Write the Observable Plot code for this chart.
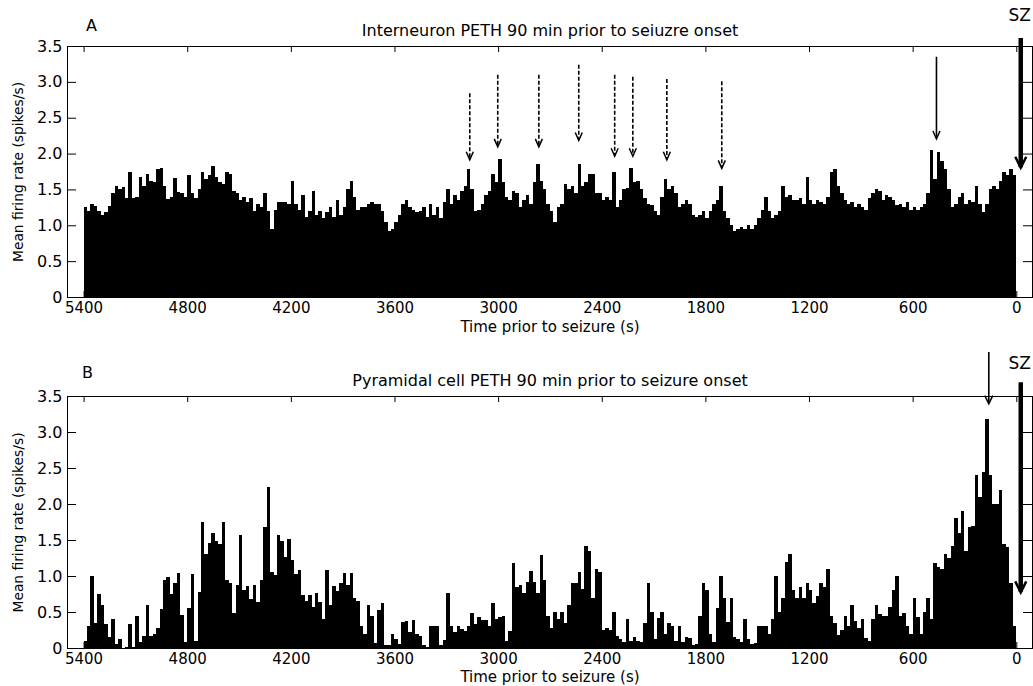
<!DOCTYPE html>
<html>
<head>
<meta charset="utf-8">
<script src="https://cdn.jsdelivr.net/npm/d3@7"></script>
<script src="https://cdn.jsdelivr.net/npm/@observablehq/plot@0.6"></script>
<style>
html, body { margin: 0; padding: 0; background: #fff; }
#chart { width: 1033px; height: 686px; overflow: hidden; background: #fff; }
#chart svg { display: block; overflow: visible; }
</style>
</head>
<body>
<div id="chart"></div>
<script>
// ---------- data ----------
const binStart = 5400;   // s prior to seizure (first bin edge)
const binWidth = 20;     // s

// Interneuron PETH (spikes/s), bins from 5400 s down to 0 s
const interneuron = [
  1.26, 1.2, 1.29, 1.27, 1.2, 1.14, 1.18, 1.27, 1.45, 1.55,
  1.5, 1.53, 1.38, 1.75, 1.38, 1.4, 1.68, 1.55, 1.72, 1.62,
  1.6, 1.78, 1.8, 1.55, 1.37, 1.4, 1.66, 1.47, 1.45, 1.4,
  1.7, 1.45, 1.38, 1.5, 1.75, 1.65, 1.7, 1.82, 1.68, 1.6,
  1.58, 1.74, 1.72, 1.48, 1.45, 1.35, 1.4, 1.32, 1.38, 1.2,
  1.3, 1.25, 1.45, 1.2, 0.95, 1.22, 1.33, 1.33, 1.32, 1.3,
  1.62, 1.3, 1.22, 1.42, 1.12, 1.2, 1.48, 1.15, 1.2, 1.1,
  1.18, 1.25, 1.12, 1.35, 1.15, 1.25, 1.5, 1.62, 1.4, 1.22,
  1.25, 1.25, 1.3, 1.32, 1.3, 1.3, 1.2, 1.05, 0.92, 0.95,
  1.05, 1.15, 1.3, 1.35, 1.25, 1.22, 1.18, 1.2, 1.25, 1.12,
  1.3, 1.15, 1.25, 1.1, 1.32, 1.5, 1.3, 1.42, 1.35, 1.48,
  1.55, 1.78, 1.5, 1.2, 1.22, 1.3, 1.42, 1.48, 1.72, 1.6,
  1.92, 1.6, 1.4, 1.35, 1.48, 1.45, 1.25, 1.35, 1.42, 1.3,
  1.6, 1.85, 1.62, 1.5, 1.3, 1.2, 1.05, 1.25, 1.3, 1.58,
  1.5, 1.55, 1.45, 1.85, 1.55, 1.6, 1.72, 1.72, 1.45, 1.45,
  1.35, 1.4, 1.35, 1.75, 1.25, 1.35, 1.5, 1.52, 1.8, 1.6,
  1.62, 1.5, 1.38, 1.3, 1.28, 1.2, 1.15, 1.4, 1.65, 1.5,
  1.55, 1.45, 1.25, 1.3, 1.35, 1.3, 1.15, 1.12, 1.15, 1.2,
  1.1, 1.2, 1.3, 1.35, 1.55, 1.2, 1.1, 1.0, 0.92, 0.95,
  0.98, 0.95, 1.0, 0.95, 1.0, 1.1, 1.22, 1.4, 1.2, 1.1,
  1.15, 1.2, 1.55, 1.4, 1.42, 1.35, 1.35, 1.38, 1.3, 1.68,
  1.35, 1.3, 1.35, 1.32, 1.3, 1.4, 1.75, 1.78, 1.55, 1.45,
  1.35, 1.3, 1.32, 1.25, 1.3, 1.25, 1.22, 1.38, 1.45, 1.5,
  1.48, 1.35, 1.42, 1.4, 1.35, 1.28, 1.3, 1.25, 1.32, 1.22,
  1.25, 1.22, 1.25, 1.3, 1.45, 2.05, 1.65, 2.02, 1.9, 1.78,
  1.5, 1.25, 1.3, 1.4, 1.45, 1.3, 1.35, 1.32, 1.55, 1.3,
  1.18, 1.3, 1.5, 1.55, 1.5, 1.62, 1.75, 1.7, 1.78, 1.7
];

// Pyramidal cell PETH (spikes/s), bins from 5400 s down to 0 s
const pyramidal = [
  0.1, 0.3, 1.0, 0.35, 0.75, 0.6, 0.34, 0.15, 0.4, 0.05,
  0.13, 0, 0.02, 0.33, 0.02, 0.44, 0.09, 0.16, 0.6, 0.16,
  0.2, 0.28, 0.54, 0.94, 0.98, 0.75, 0.9, 1.04, 0.46, 0.09,
  0.56, 1.03, 0.1, 0.78, 1.75, 1.3, 1.46, 1.6, 1.48, 1.45,
  1.75, 0.94, 0.9, 0.48, 0.87, 1.57, 0.81, 0.86, 0.68, 0.87,
  0.64, 0.95, 1.68, 2.24, 1.05, 1.01, 1.57, 1.49, 1.26, 1.51,
  1.22, 1.03, 1.09, 0.74, 0.65, 0.74, 0.57, 0.76, 0.64, 0.4,
  1.09, 0.6, 0.86, 0.79, 0.9, 1.04, 0.87, 1.04, 0.7, 0.65,
  0.31, 0.2, 0.6, 0.45, 0.07, 0.53, 0.63, 0.04, 0.04, 0.2,
  0.13, 0.06, 0.36, 0.38, 0.22, 0.39, 0.2, 0.17, 0.04, 0.02,
  0.31, 0.31, 0.3, 0.04, 0.11, 0.77, 0.3, 0.22, 0.31, 0.27,
  0.23, 0.31, 0.48, 0.33, 0.43, 0.39, 0.39, 0.3, 0.62, 0.4,
  0.43, 0.44, 0.1, 0.24, 1.18, 0.85, 0.87, 0.77, 0.91, 1.07,
  0.91, 0.76, 1.29, 0.94, 0.45, 0.28, 0.5, 0.4, 0.5, 0.35,
  0.6, 0.9, 0.9, 1.05, 0.82, 1.42, 1.35, 0.7, 1.1, 1.05,
  0.25, 0.28, 0.25, 0.5, 0.17, 0.12, 0.08, 0.4, 0.1, 0.15,
  0.1, 0.08, 0.35, 0.9, 0.5, 0.12, 0.41, 0.5, 0.2, 0.35,
  0.3, 0.1, 0.3, 0.08, 0.15, 0.14, 0.04, 0.05, 0.45, 0.9,
  0.8, 0.2, 0.09, 0.55, 1.0, 0.7, 0.36, 0.7, 0.15, 0.12,
  0.09, 0.4, 0.12, 0.06, 0.07, 0.3, 0.3, 0.3, 0.2, 0.4,
  1.0, 0.5, 0.7, 1.2, 1.3, 0.8, 0.7, 0.85, 0.7, 0.9,
  0.8, 0.62, 0.72, 0.9, 0.85, 1.1, 0.45, 0.35, 0.18, 0.25,
  0.45, 0.3, 0.6, 0.38, 0.28, 0.4, 0.14, 0.1, 0.4, 0.6,
  0.47, 0.44, 0.45, 0.57, 0.8, 1.0, 0.45, 0.48, 0.3, 0.19,
  0.7, 0.43, 0.19, 0.5, 0.7, 0.4, 1.18, 1.12, 1.1, 1.3,
  1.25, 1.42, 1.8, 1.6, 1.9, 1.35, 1.68, 1.7, 2.4, 2.1,
  2.45, 3.18, 2.4, 2.0, 2.0, 2.2, 1.45, 1.4, 0.9, 0.3
];

const xTicks = [5400, 4800, 4200, 3600, 3000, 2400, 1800, 1200, 600, 0];
const yTicks = [0, 0.5, 1, 1.5, 2, 2.5, 3, 3.5];
const xDomain = [5496, -91];
const yDomain = [0, 3.5];

const titleA = "Interneuron PETH 90 min prior to seiuzre onset";
const titleB = "Pyramidal cell PETH 90 min prior to seizure onset";
const xLabel = "Time prior to seizure (s)";
const yLabel = "Mean firing rate (spikes/s)";

// annotation arrows (x in s prior to seizure, y in spikes/s)
const dashArrowT    = [3167, 3005, 2767, 2536, 2328, 2223, 2026, 1708];
const dashArrowFrom = [2.84, 3.10, 3.10, 3.24, 3.10, 3.07, 3.04, 3.01];
const dashArrowTo   = [1.92, 2.10, 2.10, 2.19, 1.97, 1.97, 1.92, 1.80];
const solidArrowAT = [465],  solidArrowAFrom = [3.35], solidArrowATo = [2.21];
const solidArrowBT = [162],  solidArrowBFrom = [4.11], solidArrowBTo = [3.40];
const szT = [-23];
const szAFrom = [3.61], szATo = [1.81];
const szBFrom = [3.69], szBTo = [0.78];

// ---------- drawing ----------
const FONT = "'DejaVu Sans', 'Liberation Sans', Arial, sans-serif";

function vHead(ratio) {
  return {
    draw(ctx, size) {
      const L = Math.sqrt(size / Math.PI);
      ctx.moveTo(-ratio * L, -L);
      ctx.lineTo(0, 0);
      ctx.lineTo(ratio * L, -L);
    }
  };
}

function arrowMarks(T, From, To, {dashed = false, shaftWidth = 1.5, headWidth = 1.5, headLen = 8, ratio = 0.45} = {}) {
  const idx = d3.range(T.length);
  return [
    Plot.ruleX(idx, {
      x: i => T[i], y1: i => From[i], y2: i => To[i],
      stroke: "black", strokeWidth: shaftWidth,
      strokeDasharray: dashed ? "4,2" : null
    }),
    Plot.dot(idx, {
      x: i => T[i], y: i => To[i], r: headLen,
      symbol: vHead(ratio), fill: "none", stroke: "black",
      strokeWidth: headWidth, strokeLinejoin: "miter"
    })
  ];
}

function panel(cfg) {
  const bars = cfg.values.map((v, i) => ({
    t1: binStart - i * binWidth,
    t2: binStart - (i + 1) * binWidth,
    v
  }));
  const xTickLen = 0.084;  // in y units (~6 px)
  const yTickLen = 52;     // in x units (~9 px)
  return Plot.plot({
    width: 1033,
    height: cfg.height,
    marginTop: cfg.marginTop,
    marginBottom: cfg.marginBottom,
    marginLeft: 67,
    marginRight: 1,
    style: {fontFamily: FONT, fontSize: "16px", color: "black", background: "white", overflow: "visible"},
    x: {domain: xDomain},
    y: {domain: yDomain},
    marks: [
      Plot.rect(bars, {x1: "t1", x2: "t2", y1: 0, y2: "v", fill: "black", shapeRendering: "crispEdges"}),
      Plot.frame({stroke: "black", strokeWidth: 1}),
      Plot.ruleX(xTicks, {x: d => d, y1: 0, y2: xTickLen, stroke: "black"}),
      Plot.ruleX(xTicks, {x: d => d, y1: yDomain[1] - xTickLen, y2: yDomain[1], stroke: "black"}),
      Plot.ruleY(yTicks, {y: d => d, x1: xDomain[0], x2: xDomain[0] - yTickLen, stroke: "black"}),
      Plot.ruleY(yTicks, {y: d => d, x1: xDomain[1], x2: xDomain[1] + yTickLen, stroke: "black"}),
      Plot.axisX({ticks: xTicks, tickSize: 0, tickPadding: 5, tickFormat: d => String(d), label: null, fontSize: 15}),
      Plot.axisY({ticks: yTicks, tickSize: 0, tickPadding: 5, tickFormat: d => d === 0 ? "0" : d.toFixed(1), label: null, fontSize: 16}),
      Plot.text([xLabel], {text: d => d, frameAnchor: "bottom", textAnchor: "middle", dy: cfg.xLabelDy, lineAnchor: "middle", fontSize: 15}),
      Plot.text([yLabel], {text: d => d, frameAnchor: "left", textAnchor: "middle", dx: -49, rotate: -90, lineAnchor: "middle", fontSize: 13.8}),
      Plot.text([cfg.title], {text: d => d, frameAnchor: "top", textAnchor: "middle", dy: cfg.titleDy, lineAnchor: "middle", fontSize: 16}),
      Plot.text([cfg.letter], {text: d => d, frameAnchor: "top-left", textAnchor: "middle", dx: cfg.letterDx, dy: cfg.letterDy, lineAnchor: "middle", fontSize: 16}),
      Plot.text(["SZ"], {text: d => d, frameAnchor: "top-right", textAnchor: "start", dx: -24, dy: cfg.szDy, lineAnchor: "middle", fontSize: 17}),
      ...cfg.extra
    ]
  });
}

const svgA = panel({
  values: interneuron, title: titleA, letter: "A",
  height: 340, marginTop: 46, marginBottom: 43,
  titleDy: -16, letterDx: 24, letterDy: -21, szDy: -31, xLabelDy: 30,
  extra: [
    ...arrowMarks(dashArrowT, dashArrowFrom, dashArrowTo, {dashed: true, shaftWidth: 1.6, headWidth: 1.5, headLen: 8, ratio: 0.44}),
    ...arrowMarks(solidArrowAT, solidArrowAFrom, solidArrowATo, {shaftWidth: 1.6, headWidth: 1.5, headLen: 8, ratio: 0.44}),
    ...arrowMarks(szT, szAFrom, szATo, {shaftWidth: 4.5, headWidth: 2.5, headLen: 11, ratio: 0.5})
  ]
});

const svgB = panel({
  values: pyramidal, title: titleB, letter: "B",
  height: 346, marginTop: 56, marginBottom: 38,
  titleDy: -16, letterDx: 20, letterDy: -24, szDy: -33, xLabelDy: 29,
  extra: [
    ...arrowMarks(solidArrowBT, solidArrowBFrom, solidArrowBTo, {shaftWidth: 1.6, headWidth: 1.5, headLen: 8, ratio: 0.5}),
    ...arrowMarks(szT, szBFrom, szBTo, {shaftWidth: 4.5, headWidth: 2.5, headLen: 11, ratio: 0.5})
  ]
});

const chart = document.getElementById("chart");
chart.appendChild(svgA);
chart.appendChild(svgB);
</script>
</body>
</html>
